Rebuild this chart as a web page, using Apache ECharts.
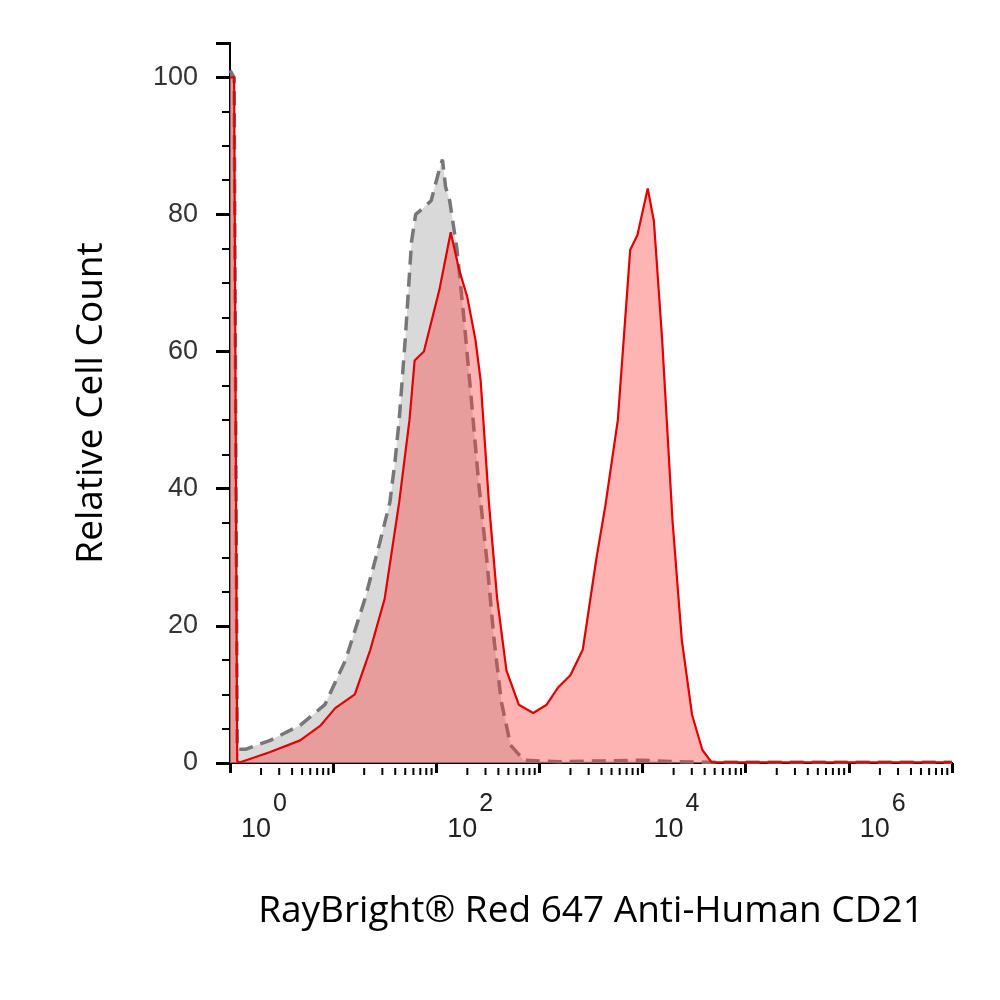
<!DOCTYPE html>
<html><head><meta charset="utf-8">
<script src="https://cdn.jsdelivr.net/npm/echarts@6/dist/echarts.min.js"></script>
<style>html,body{margin:0;background:#fff}#c{width:1000px;height:1000px}</style>
</head><body><div id="c"></div>
<script>
// x values are log10 of fluorescence (decades)
const isotype = [[0.0,101],[0.04,100],[0.07,2],[0.15,2],[0.39,3.3],[0.68,5.5],[0.92,8.5],[1.12,15],[1.31,24],[1.45,32],[1.55,38],[1.6,44],[1.64,50],[1.7,62],[1.76,76],[1.8,80],[1.88,81],[1.95,82],[2.02,86],[2.06,88],[2.09,84],[2.13,82],[2.2,75],[2.27,64.5],[2.34,53],[2.41,41],[2.49,29.6],[2.56,18],[2.63,9],[2.72,2.6],[2.85,0.4],[3.0,0.3],[3.2,0.2],[3.6,0.3],[4.0,0.4],[4.3,0.2],[4.6,0.1],[5,0.1],[6,0.1],[7,0.1]];
const stained = [[0.0,100],[0.04,100],[0.07,0.2],[0.1,0.1],[0.39,1.6],[0.68,3.3],[0.88,5.5],[1.02,8],[1.21,10],[1.36,16.5],[1.5,24],[1.64,38],[1.74,50],[1.79,58.7],[1.88,60],[2.03,69],[2.14,77.4],[2.22,72],[2.3,68],[2.38,61.7],[2.43,55.8],[2.51,38],[2.59,24],[2.68,13.5],[2.8,8.5],[2.94,7.3],[3.07,8.5],[3.18,11],[3.3,12.8],[3.42,16.5],[3.55,29.6],[3.64,37.6],[3.76,50],[3.88,74.8],[3.95,77],[4.05,83.8],[4.11,79],[4.19,61.7],[4.29,35.4],[4.38,18],[4.48,7],[4.58,1.9],[4.67,0.1],[7,0.1]];
const xLabelDecades = [0,2,4,6];
const yTicks = [0,20,40,60,80,100];
const minorX = [];
for (let d=0; d<7; d++) for (let k=2; k<=9; k++) minorX.push([d+Math.log10(k),0]);

const chart = echarts.init(document.getElementById('c'));
const font = 'Liberation Sans, Arial, sans-serif';
chart.setOption({
  animation:false,
  grid:{left:230,right:48,top:43,bottom:237},
  xAxis:[{type:'value',min:0,max:7,interval:1,offset:5,
    axisLine:{lineStyle:{color:'#000',width:2}},
    axisTick:{length:10,lineStyle:{color:'#000',width:3}},
    splitLine:{show:false},
    axisLabel:{margin:24,align:'left',padding:[0,0,0,11],formatter:v=>xLabelDecades.includes(v)?'{s|'+v+'}\n{b|10}':'',
      rich:{b:{fontSize:27,fontFamily:font,color:'#222',lineHeight:28},
            s:{fontSize:25,fontFamily:font,color:'#222',lineHeight:24,padding:[0,0,0,32]}}},
    name:'RayBright® Red 647 Anti-Human CD21',nameLocation:'middle',nameGap:125,
    nameTextStyle:{fontSize:37,fontFamily:'Open Sans, sans-serif',color:'#000'}},
   {type:'value',position:'top',min:0,max:7,axisLine:{lineStyle:{color:'#000',width:2}},axisTick:{show:false},axisLabel:{show:false},splitLine:{show:false}}],
  yAxis:[{type:'value',min:0,max:105,interval:20,
    axisLine:{show:true,lineStyle:{color:'#000',width:2}},
    axisTick:{length:14,lineStyle:{color:'#000',width:3}},
    minorTick:{show:true,splitNumber:4,length:8,lineStyle:{color:'#000',width:2}},
    splitLine:{show:false},minorSplitLine:{show:false},
    axisLabel:{margin:32,fontSize:27,fontFamily:font,color:'#333',formatter:v=>yTicks.includes(v)?String(v):''},
    name:'Relative Cell Count',nameLocation:'middle',nameGap:120,
    nameTextStyle:{fontSize:37,fontFamily:'Open Sans, sans-serif',color:'#000'}},
   {type:'value',position:'right',min:0,max:105,axisLine:{show:true,lineStyle:{color:'#000',width:2}},axisTick:{show:false},axisLabel:{show:false},splitLine:{show:false}}],
  series:[
    {type:'line',data:isotype,symbol:'none',z:2,
      lineStyle:{color:'#777',width:3.5,type:[14,8]},areaStyle:{color:'rgba(192,192,192,0.85)'}},
    {type:'line',data:stained,symbol:'none',z:3,
      lineStyle:{color:'#e00000',width:2.2},areaStyle:{color:'rgba(255,60,60,0.55)'}},
    {type:'custom',data:minorX,z:5,clip:false,
      renderItem:(p,api)=>{const pt=api.coord([api.value(0),0]);
        return {type:'line',shape:{x1:pt[0],y1:pt[1]+5,x2:pt[0],y2:pt[1]+12},style:{stroke:'#000',lineWidth:2}};}}
  ]
});
</script></body></html>
